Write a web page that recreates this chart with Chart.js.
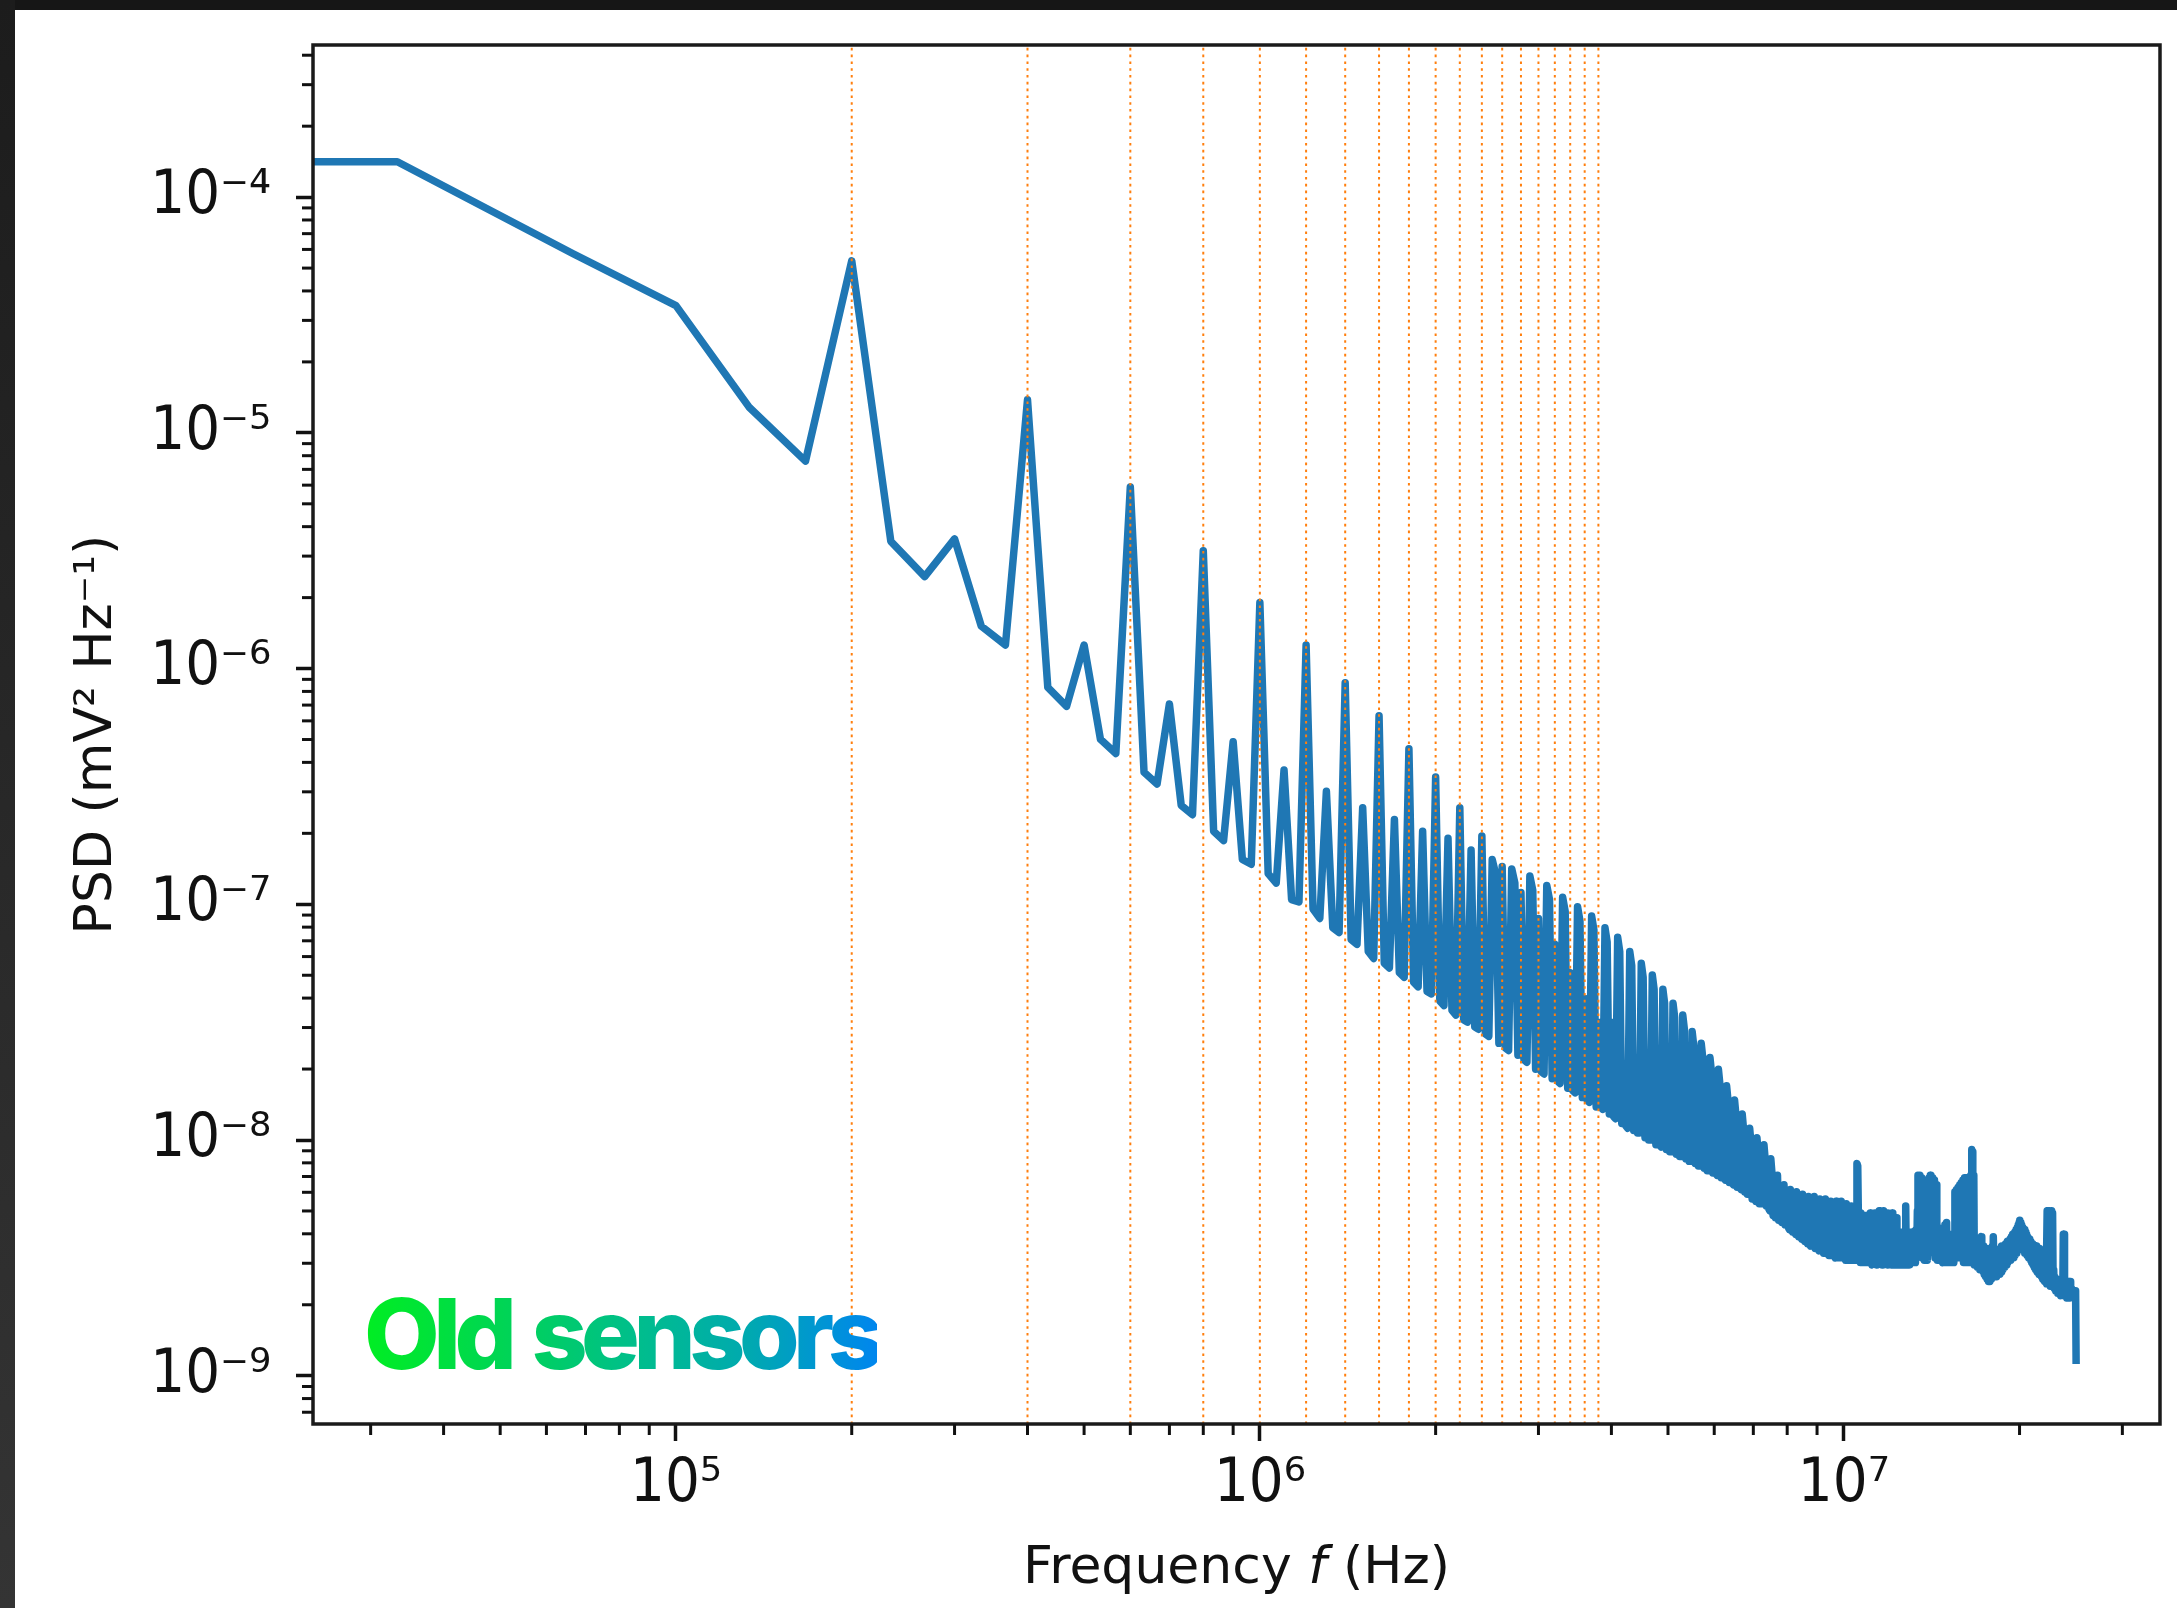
<!DOCTYPE html>
<html>
<head>
<meta charset="utf-8">
<title>PSD - old sensors</title>
<script src="https://cdn.jsdelivr.net/npm/chart.js@4.4.1/dist/chart.umd.min.js"></script>
<style>
  html, body { margin: 0; padding: 0; background: #fff; }
  body { width: 2177px; height: 1608px; position: relative; overflow: hidden; }
  #psd { position: absolute; left: 0; top: 0; }
  .edge-top { position: absolute; left: 0; top: 0; width: 2177px; height: 10px; background: #161616; }
  .edge-left { position: absolute; left: 0; top: 0; width: 15px; height: 1608px; background: linear-gradient(#1c1c1c, #343434); }
  .tag {
    position: absolute; left: 364px; top: 1285px;
    font: 800 98px Inter, "Liberation Sans", sans-serif; letter-spacing: -6.5px; word-spacing: 6px; line-height: 1;
    white-space: nowrap; color: transparent;
    background: linear-gradient(90deg, #00ee22 0%, #00d25a 30%, #00bf8a 52%, #00a9b0 75%, #0086ee 100%);
    -webkit-background-clip: text; background-clip: text;
  }
</style>
</head>
<body>
<canvas id="psd" width="2177" height="1608"></canvas>
<div class="edge-top"></div>
<div class="edge-left"></div>
<div class="tag">Old sensors</div>
<script>
// FFT bin width (Hz); bin 0 is DC
const binHz = 33333.33;

// log10 of the PSD (mV^2/Hz) for every bin, 30 bins = 1 MHz per row
const logPsd = [
  -3.85,-3.85,-4.24,-4.46,-4.89,-5.12,-4.27,-5.46,-5.61,-5.45,-5.82,-5.90,-4.86,-6.08,-6.16,-5.90,-6.30,-6.36,-5.23,-6.44,-6.49,-6.15,-6.58,-6.62,-5.50,-6.69,-6.73,-6.31,-6.81,-6.83,
  -5.72,-6.87,-6.91,-6.43,-6.98,-6.99,-5.90,-7.02,-7.06,-6.52,-7.10,-7.12,-6.06,-7.15,-7.17,-6.59,-7.20,-7.23,-6.20,-7.25,-7.27,-6.64,-7.29,-7.31,-6.34,-7.33,-7.35,-6.69,-7.37,-7.38,
  -6.46,-7.41,-7.43,-6.72,-7.45,-7.47,-6.59,-7.49,-7.50,-6.77,-7.52,-7.53,-6.71,-7.55,-7.56,-6.81,-6.87,-7.59,-6.84,-7.61,-7.62,-6.85,-6.91,-7.64,-6.95,-7.66,-7.67,-6.88,-6.94,-7.70,
  -7.06,-7.71,-7.72,-6.92,-6.98,-7.74,-7.17,-7.75,-7.76,-6.97,-7.03,-7.78,-7.29,-7.79,-7.80,-7.01,-7.07,-7.82,-7.40,-7.83,-7.84,-7.05,-7.11,-7.86,-7.50,-7.86,-7.87,-7.10,-7.16,-7.89,
  -7.50,-7.90,-7.91,-7.14,-7.20,-7.93,-7.69,-7.94,-7.95,-7.20,-7.26,-7.96,-7.76,-7.97,-7.97,-7.25,-7.31,-7.99,-7.84,-8.00,-8.00,-7.30,-7.36,-8.02,-7.90,-8.02,-8.03,-7.36,-7.42,-8.04,
  -7.95,-8.05,-8.05,-7.42,-7.48,-8.06,-8.00,-8.07,-8.07,-7.47,-7.53,-8.08,-8.03,-8.09,-8.09,-7.54,-7.60,-8.10,-8.05,-8.11,-8.11,-7.59,-7.65,-8.12,-8.07,-8.13,-8.13,-7.65,-7.71,-8.14,
  -8.10,-8.14,-8.15,-7.70,-7.76,-8.16,-8.12,-8.16,-8.17,-7.77,-7.83,-8.18,-8.14,-8.18,-8.19,-7.83,-7.89,-8.20,-8.16,-8.20,-8.21,-7.89,-7.95,-8.22,-8.18,-8.23,-8.23,-7.95,-8.01,-8.25,
  -8.21,-8.25,-8.26,-7.99,-8.05,-8.27,-8.22,-8.27,-8.27,-8.02,-8.08,-8.28,-8.24,-8.29,-8.30,-8.08,-8.14,-8.32,-8.27,-8.33,-8.33,-8.15,-8.34,-8.34,-8.29,-8.35,-8.35,-8.19,-8.36,-8.36,
  -8.30,-8.37,-8.38,-8.21,-8.38,-8.39,-8.31,-8.39,-8.40,-8.22,-8.40,-8.41,-8.32,-8.41,-8.42,-8.23,-8.42,-8.43,-8.33,-8.43,-8.44,-8.24,-8.44,-8.45,-8.34,-8.45,-8.45,-8.24,-8.46,-8.46,
  -8.35,-8.46,-8.47,-8.25,-8.47,-8.47,-8.35,-8.48,-8.48,-8.25,-8.48,-8.48,-8.36,-8.49,-8.49,-8.26,-8.49,-8.49,-8.36,-8.49,-8.50,-8.26,-8.50,-8.50,-8.37,-8.50,-8.50,-8.26,-8.50,-8.50,
  -8.37,-8.50,-8.51,-8.27,-8.51,-8.51,-8.37,-8.51,-8.51,-8.28,-8.51,-8.51,-8.38,-8.51,-8.51,-8.30,-8.10,-8.11,-8.38,-8.51,-8.52,-8.31,-8.52,-8.52,-8.39,-8.52,-8.52,-8.32,-8.52,-8.52,
  -8.40,-8.52,-8.51,-8.31,-8.52,-8.53,-8.40,-8.52,-8.51,-8.31,-8.52,-8.53,-8.40,-8.52,-8.52,-8.30,-8.51,-8.52,-8.40,-8.53,-8.52,-8.30,-8.52,-8.51,-8.40,-8.52,-8.53,-8.31,-8.52,-8.52,
  -8.41,-8.52,-8.53,-8.31,-8.53,-8.53,-8.42,-8.53,-8.53,-8.33,-8.53,-8.53,-8.45,-8.53,-8.53,-8.39,-8.53,-8.53,-8.46,-8.53,-8.53,-8.39,-8.53,-8.28,-8.53,-8.53,-8.46,-8.39,-8.53,-8.53,
  -8.47,-8.52,-8.52,-8.39,-8.52,-8.52,-8.45,-8.52,-8.52,-8.38,-8.50,-8.30,-8.15,-8.45,-8.30,-8.15,-8.47,-8.30,-8.16,-8.50,-8.35,-8.40,-8.51,-8.27,-8.51,-8.51,-8.42,-8.51,-8.51,-8.30,
  -8.16,-8.40,-8.15,-8.16,-8.45,-8.17,-8.16,-8.48,-8.30,-8.17,-8.50,-8.35,-8.19,-8.45,-8.51,-8.37,-8.51,-8.51,-8.44,-8.51,-8.51,-8.38,-8.51,-8.52,-8.43,-8.52,-8.52,-8.36,-8.52,-8.52,
  -8.35,-8.52,-8.52,-8.40,-8.52,-8.52,-8.42,-8.52,-8.52,-8.40,-8.52,-8.52,-8.43,-8.52,-8.45,-8.22,-8.48,-8.35,-8.21,-8.50,-8.33,-8.20,-8.50,-8.35,-8.19,-8.50,-8.33,-8.18,-8.50,-8.35,
  -8.17,-8.52,-8.34,-8.16,-8.52,-8.34,-8.16,-8.52,-8.33,-8.16,-8.52,-8.33,-8.16,-8.52,-8.33,-8.15,-8.30,-8.04,-8.05,-8.52,-8.35,-8.15,-8.53,-8.41,-8.53,-8.53,-8.44,-8.53,-8.54,-8.42,
  -8.54,-8.54,-8.44,-8.55,-8.55,-8.42,-8.41,-8.55,-8.46,-8.55,-8.56,-8.45,-8.57,-8.57,-8.47,-8.58,-8.58,-8.46,-8.59,-8.59,-8.47,-8.60,-8.60,-8.47,-8.60,-8.59,-8.46,-8.59,-8.59,-8.45,
  -8.58,-8.41,-8.41,-8.58,-8.47,-8.58,-8.58,-8.48,-8.58,-8.57,-8.48,-8.57,-8.57,-8.47,-8.57,-8.56,-8.46,-8.56,-8.56,-8.45,-8.55,-8.55,-8.45,-8.45,-8.54,-8.45,-8.54,-8.53,-8.44,-8.53,
  -8.52,-8.52,-8.43,-8.52,-8.51,-8.43,-8.51,-8.51,-8.42,-8.51,-8.50,-8.41,-8.50,-8.50,-8.40,-8.50,-8.49,-8.40,-8.49,-8.39,-8.48,-8.48,-8.38,-8.48,-8.47,-8.37,-8.46,-8.36,-8.45,-8.35,
  -8.34,-8.44,-8.35,-8.44,-8.45,-8.36,-8.45,-8.46,-8.37,-8.46,-8.47,-8.38,-8.47,-8.48,-8.39,-8.48,-8.48,-8.40,-8.49,-8.49,-8.41,-8.49,-8.50,-8.42,-8.50,-8.50,-8.43,-8.51,-8.51,-8.44,
  -8.52,-8.52,-8.44,-8.53,-8.53,-8.45,-8.54,-8.54,-8.45,-8.55,-8.55,-8.45,-8.55,-8.56,-8.46,-8.56,-8.56,-8.46,-8.57,-8.57,-8.46,-8.57,-8.57,-8.47,-8.58,-8.58,-8.47,-8.58,-8.59,-8.47,
  -8.59,-8.59,-8.48,-8.60,-8.60,-8.48,-8.60,-8.61,-8.48,-8.30,-8.45,-8.61,-8.30,-8.45,-8.61,-8.30,-8.45,-8.62,-8.31,-8.45,-8.62,-8.30,-8.46,-8.62,-8.31,-8.62,-8.62,-8.55,-8.63,-8.63,
  -8.58,-8.63,-8.64,-8.59,-8.64,-8.64,-8.60,-8.64,-8.65,-8.60,-8.65,-8.65,-8.61,-8.65,-8.65,-8.61,-8.66,-8.66,-8.62,-8.66,-8.66,-8.62,-8.66,-8.40,-8.41,-8.66,-8.40,-8.66,-8.62,-8.66,
  -8.62,-8.66,-8.67,-8.60,-8.67,-8.67,-8.61,-8.67,-8.67,-8.60,-8.67,-8.67,-8.61,-8.60,-8.66,-8.63,-8.66,-8.66,-8.64,-8.66,-8.66,-8.64,-8.66,-8.65,-8.64,-8.65,-8.65,-8.64,-8.65,-8.65,
  -8.95
];

// dotted guides on the 200 kHz comb
const guideHz = [2e5, 4e5, 6e5, 8e5, 1e6, 1.2e6, 1.4e6, 1.6e6, 1.8e6, 2e6,
                 2.2e6, 2.4e6, 2.6e6, 2.8e6, 3e6, 3.2e6, 3.4e6, 3.6e6, 3.8e6];

// axis ranges
const xMin = 2.39e4, xMax = 3.48e7;
const yMin = 6.24e-10, yMax = 4.42e-4;

const ink = '#111';
const tickFont = { family: '"DejaVu Sans Condensed", "DejaVu Sans"', size: 61 };
const labelFont = '"DejaVu Sans"';

const psdPoints = logPsd.map((v, i) => ({ x: i * binHz, y: Math.pow(10, v) }));
const guidePoints = guideHz.flatMap(f => [{ x: f, y: yMin }, { x: f, y: yMax }, { x: f, y: null }]);

const SUP = { '-': '\u207B', '0': '\u2070', '1': '\u00B9', '2': '\u00B2', '3': '\u00B3',
              '4': '\u2074', '5': '\u2075', '6': '\u2076', '7': '\u2077', '8': '\u2078', '9': '\u2079' };

function isDecade(v) {
  const e = Math.log10(v);
  return Math.abs(e - Math.round(e)) < 1e-9;
}

function decadeLabel(v) {
  if (!isDecade(v)) return '';
  return '10' + String(Math.round(Math.log10(v))).split('').map(c => SUP[c]).join('');
}

// 1..9 x 10^n inside [min, max]
function logTicks(min, max) {
  const out = [];
  for (let e = Math.floor(Math.log10(min)); e <= Math.ceil(Math.log10(max)); e++) {
    for (let m = 1; m < 10; m++) {
      const v = m * Math.pow(10, e);
      if (v >= min && v <= max) out.push({ value: v });
    }
  }
  return out;
}

const majorTickColor = c => (c.tick && isDecade(c.tick.value)) ? ink : 'rgba(0,0,0,0)';

// box around the plot area
const frame = {
  id: 'frame',
  afterDatasetsDraw(chart) {
    const { ctx, chartArea: a } = chart;
    ctx.save();
    ctx.strokeStyle = '#1a1a1a';
    ctx.lineWidth = 3.5;
    ctx.strokeRect(a.left, a.top, a.right - a.left, a.bottom - a.top);
    ctx.restore();
  }
};

// short ticks for 2..9 x 10^n
const minorTicks = {
  id: 'minorTicks',
  afterDraw(chart) {
    const { ctx, chartArea: a, scales: { x, y } } = chart;
    ctx.save();
    ctx.strokeStyle = ink;
    ctx.lineWidth = 3;
    x.ticks.forEach(t => {
      if (isDecade(t.value)) return;
      const px = x.getPixelForValue(t.value);
      ctx.beginPath(); ctx.moveTo(px, a.bottom); ctx.lineTo(px, a.bottom + 11); ctx.stroke();
    });
    y.ticks.forEach(t => {
      if (isDecade(t.value)) return;
      const py = y.getPixelForValue(t.value);
      ctx.beginPath(); ctx.moveTo(a.left, py); ctx.lineTo(a.left - 11, py); ctx.stroke();
    });
    ctx.restore();
  }
};

// x label with an italic f
const xTitle = {
  id: 'xTitle',
  afterDraw(chart) {
    const { ctx, chartArea: a } = chart;
    const parts = [['Frequency ', 'normal'], ['f', 'italic'], [' (Hz)', 'normal']];
    ctx.save();
    ctx.fillStyle = ink;
    ctx.textBaseline = 'alphabetic';
    ctx.textAlign = 'left';
    const widths = parts.map(([t, s]) => {
      ctx.font = `${s} 52px ${labelFont}`;
      return ctx.measureText(t).width;
    });
    let x = (a.left + a.right) / 2 - widths.reduce((p, w) => p + w, 0) / 2;
    parts.forEach(([t, s], i) => {
      ctx.font = `${s} 52px ${labelFont}`;
      ctx.fillText(t, x, a.bottom + 159);
      x += widths[i];
    });
    ctx.restore();
  }
};

new Chart(document.getElementById('psd'), {
  type: 'line',
  data: {
    datasets: [
      {
        label: 'comb',
        data: guidePoints,
        parsing: false,
        borderColor: '#ff7f0e',
        borderWidth: 2,
        borderDash: [2.6, 4.2],
        pointRadius: 0,
        spanGaps: false,
        clip: 0
      },
      {
        label: 'PSD',
        data: psdPoints,
        parsing: false,
        borderColor: '#1f77b4',
        borderWidth: 7.5,
        borderJoinStyle: 'round',
        pointRadius: 0,
        clip: 0
      }
    ]
  },
  options: {
    responsive: false,
    animation: false,
    devicePixelRatio: 1,
    layout: { padding: { left: 0, top: 45, right: 17, bottom: 0 } },
    plugins: { legend: { display: false }, tooltip: { enabled: false } },
    scales: {
      x: {
        type: 'logarithmic',
        position: 'bottom',
        min: xMin,
        max: xMax,
        bounds: 'data',
        afterBuildTicks: s => { s.ticks = logTicks(xMin, xMax); },
        afterFit: s => { s.height = 184; s.paddingLeft = 0; s.paddingRight = 0; },
        border: { display: false },
        grid: { drawOnChartArea: false, drawTicks: true, tickLength: 17, tickWidth: 3.5, tickColor: majorTickColor },
        ticks: {
          autoSkip: false, maxRotation: 0, minRotation: 0, padding: 8,
          font: tickFont, color: ink, callback: v => decadeLabel(v)
        }
      },
      y: {
        type: 'logarithmic',
        position: 'left',
        min: yMin,
        max: yMax,
        bounds: 'data',
        afterBuildTicks: s => { s.ticks = logTicks(yMin, yMax); },
        afterFit: s => { s.width = 313; s.paddingTop = 0; s.paddingBottom = 0; },
        border: { display: false },
        grid: { drawOnChartArea: false, drawTicks: true, tickLength: 17, tickWidth: 3.5, tickColor: majorTickColor },
        ticks: {
          autoSkip: false, padding: 25,
          font: tickFont, color: ink, callback: v => decadeLabel(v)
        },
        title: {
          display: true,
          text: 'PSD (mV\u00B2 Hz\u207B\u00B9)',
          color: ink,
          font: { family: labelFont, size: 52 },
          padding: { top: 66, bottom: 0 }
        }
      }
    }
  },
  plugins: [frame, minorTicks, xTitle]
});
</script>
</body>
</html>
